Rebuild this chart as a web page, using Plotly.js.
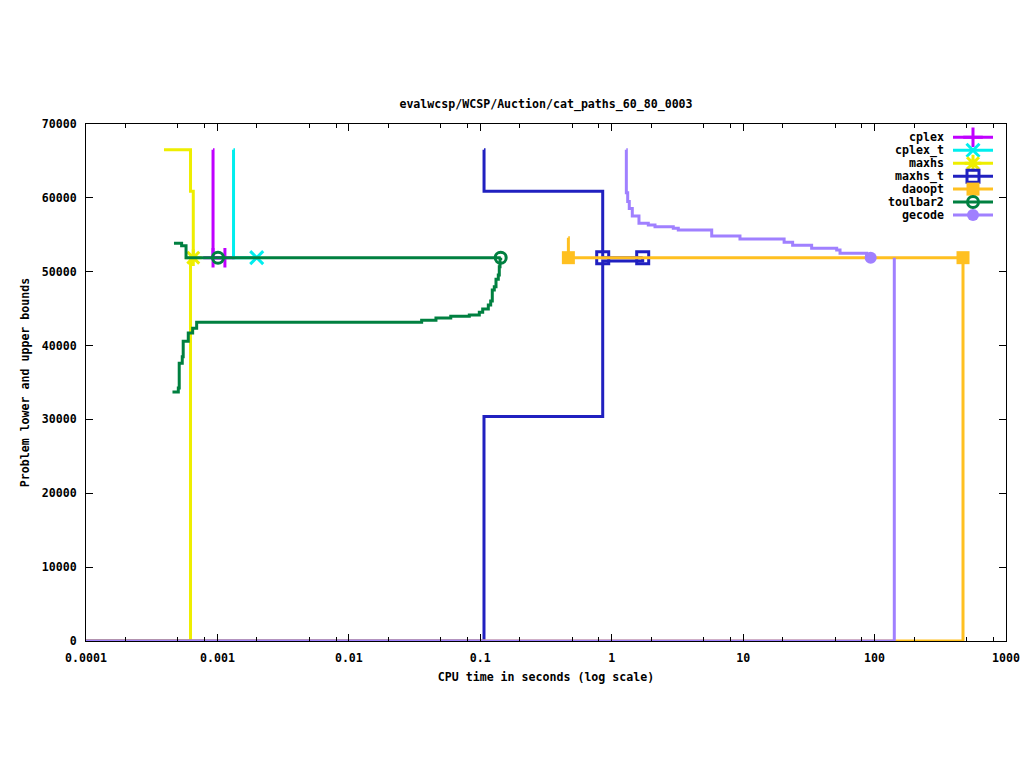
<!DOCTYPE html>
<html><head><meta charset="utf-8">
<script src="https://cdn.plot.ly/plotly-3.0.1.min.js"></script>
<style>html,body{margin:0;padding:0;background:#fff}#chart{width:1024px;height:768px}</style>
</head><body><div id="chart"></div>
<script>
// ---- labels ----
const chartTitle = 'evalwcsp/WCSP/Auction/cat_paths_60_80_0003';
const xTitle = 'CPU time in seconds (log scale)';
const yTitle = 'Problem lower and upper bounds';
const solvers = ['cplex', 'cplex_t', 'maxhs', 'maxhs_t', 'daoopt', 'toulbar2', 'gecode'];
const colors = ['#c000ff', '#00eeee', '#eeee00', '#2020c0', '#ffc020', '#008040', '#a080ff'];
const symbols = ['cross-thin-open', 'x-thin-open', 'asterisk-open', 'square-open', 'square', 'circle-open', 'circle'];
const xTickVals = [0.0001, 0.001, 0.01, 0.1, 1, 10, 100, 1000];
const xTickText = ['0.0001', '0.001', '0.01', '0.1', '1', '10', '100', '1000'];
const xMinorVals = [0.0002, 0.0005, 0.0008, 0.002, 0.005, 0.008, 0.02, 0.05, 0.08, 0.2, 0.5, 0.8, 2, 5, 8, 20, 50, 80, 200, 500, 800];
const yTickVals = [0, 10000, 20000, 30000, 40000, 50000, 60000, 70000];

// ---- cplex ----
const cplexUbT = [0.000925, 0.000926, 0.00114];
const cplexUbV = [66500, 51900, 51900];
const cplexLbT = [];
const cplexLbV = [];
const cplexMkT = [0.000926, 0.00114];
const cplexMkV = [51900, 51900];
// ---- cplex_t ----
const cplextUbT = [0.001324, 0.001326, 0.00199];
const cplextUbV = [66500, 51900, 51900];
const cplextLbT = [];
const cplextLbV = [];
const cplextMkT = [0.00199];
const cplextMkV = [51900];
// ---- maxhs ----
const maxhsUbT = [0.000392, 0.000624, 0.000655];
const maxhsUbV = [66500, 60900, 51900];
const maxhsLbT = [0.00009, 0.000624, 0.000655];
const maxhsLbV = [0, 51900, 51900];
const maxhsMkT = [0.000655];
const maxhsMkV = [51900];
// ---- maxhs_t ----
const maxhstUbT = [0.1067, 0.1068, 0.854, 1.721];
const maxhstUbV = [66500, 60900, 51900, 51900];
const maxhstLbT = [0.00009, 0.1067, 0.854, 1.721];
const maxhstLbV = [0, 30400, 51450, 51900];
const maxhstMkT = [0.854, 1.721];
const maxhstMkV = [51900, 51900];
// ---- daoopt ----
const daooptUbT = [0.467, 0.468, 470.9];
const daooptUbV = [54600, 51900, 51900];
const daooptLbT = [0.00009, 470.9];
const daooptLbV = [0, 51900];
const daooptMkT = [0.468, 470.9];
const daooptMkV = [51900, 51900];
// ---- toulbar2 ----
const tbUbT = [0.000467, 0.000534, 0.000577, 0.143];
const tbUbV = [53850, 53500, 51900, 51900];
const tbLbT = [0.000455, 0.000504, 0.000512, 0.00054, 0.000549, 0.0006, 0.000648, 0.000695, 0.0358, 0.046, 0.0596, 0.0825, 0.0983, 0.1043, 0.1151, 0.12, 0.1234, 0.1278, 0.1317, 0.1371, 0.1395, 0.1413, 0.143];
const tbLbV = [33700, 34250, 37600, 38500, 40600, 41700, 42350, 43170, 43420, 43730, 43960, 44140, 44500, 44950, 45500, 46030, 47520, 47970, 48970, 49560, 50680, 51800, 51900];
const tbMkT = [0.00101, 0.143];
const tbMkV = [51900, 51900];
// ---- gecode ----
const gecodeUbT = [1.29, 1.292, 1.323, 1.36, 1.434, 1.612, 1.898, 2.135, 2.941, 3.21, 5.765, 9.46, 20.5, 23.8, 33.2, 51.5, 54.6, 87.1, 93.4];
const gecodeUbV = [66500, 60700, 59500, 58570, 57550, 56560, 56330, 56100, 55880, 55650, 54840, 54430, 53990, 53580, 53170, 52940, 52500, 52260, 51900];
const gecodeLbT = [0.00009, 141.3];
const gecodeLbV = [0, 51900];
const gecodeMkT = [93.4];
const gecodeMkV = [51900];

const series = [
  [cplexUbT, cplexUbV, cplexLbT, cplexLbV, cplexMkT, cplexMkV],
  [cplextUbT, cplextUbV, cplextLbT, cplextLbV, cplextMkT, cplextMkV],
  [maxhsUbT, maxhsUbV, maxhsLbT, maxhsLbV, maxhsMkT, maxhsMkV],
  [maxhstUbT, maxhstUbV, maxhstLbT, maxhstLbV, maxhstMkT, maxhstMkV],
  [daooptUbT, daooptUbV, daooptLbT, daooptLbV, daooptMkT, daooptMkV],
  [tbUbT, tbUbV, tbLbT, tbLbV, tbMkT, tbMkV],
  [gecodeUbT, gecodeUbV, gecodeLbT, gecodeLbV, gecodeMkT, gecodeMkV]
];

// ---- layout constants (pixels) ----
const W = 1024, H = 768;
const PL = 86, PR = 1006, PT = 124, PB = 641;
const FONT = 'DejaVu Sans Mono, monospace';
const FS = 11.6;
const TXT = {family: FONT, size: FS, color: '#000', weight: 'bold'};
const LW = 3;
function markerStyle(i, size) {
  const open = symbols[i].indexOf('open') >= 0;
  return {symbol: symbols[i], size: size, color: colors[i],
          line: {color: colors[i], width: open ? LW : 0}};
}
const markerSizes = [14, 13, 14, 12, 13, 11, 12];

const traces = [];
series.forEach(function (s, i) {
  const line = {color: colors[i], width: LW, shape: 'hv'};
  if (s[0].length) traces.push({x: s[0], y: s[1], mode: 'lines', line: line, hoverinfo: 'skip', showlegend: false});
  if (s[2].length) traces.push({x: s[2], y: s[3], mode: 'lines', line: line, hoverinfo: 'skip', showlegend: false});
  traces.push({x: s[4], y: s[5], mode: 'markers', marker: markerStyle(i, markerSizes[i]), cliponaxis: false, hoverinfo: 'skip', showlegend: false});
});

// ---- gnuplot-style key (top right), drawn on an overlay axis in plot fractions ----
const pw = PR - PL, ph = PB - PT;
const fx = function (px) { return (px - PL) / pw; };
const fy = function (py) { return (PB - py) / ph; };
const keyTop = 137.3, keyStep = 12.95;
const annotations = [];
solvers.forEach(function (name, i) {
  const yy = fy(keyTop + i * keyStep);
  traces.push({x: [fx(953), fx(993)], y: [yy, yy], xaxis: 'x2', yaxis: 'y2', mode: 'lines',
               line: {color: colors[i], width: LW}, hoverinfo: 'skip', showlegend: false});
  traces.push({x: [fx(973)], y: [yy], xaxis: 'x2', yaxis: 'y2', mode: 'markers',
               marker: markerStyle(i, markerSizes[i]), hoverinfo: 'skip', showlegend: false});
  annotations.push({xref: 'x2', yref: 'y2', x: fx(946), y: yy, text: name, showarrow: false,
                    xanchor: 'right', yanchor: 'middle', font: TXT});
});

const layout = {
  width: W, height: H,
  margin: {l: PL, r: W - PR, t: PT, b: H - PB, pad: 0},
  paper_bgcolor: '#fff', plot_bgcolor: '#fff',
  showlegend: false,
  font: TXT,
  title: {text: chartTitle, x: 0.5, xanchor: 'center', y: 1 - 104 / H, yanchor: 'middle',
          xref: 'paper', yref: 'container', font: TXT},
  xaxis: {
    type: 'log', range: [-4, 3], tickmode: 'array', tickvals: xTickVals, ticktext: xTickText,
    ticks: 'inside', ticklen: 7, tickwidth: 1, tickcolor: '#000',
    showline: true, linecolor: '#000', linewidth: 1, mirror: 'ticks',
    showgrid: false, zeroline: false, ticklabelstandoff: 6,
    minor: {tickmode: 'array', tickvals: xMinorVals, ticks: 'inside', ticklen: 4, tickwidth: 1, tickcolor: '#000', showgrid: false},
    title: {text: xTitle, standoff: 8, font: TXT},
    tickfont: TXT
  },
  yaxis: {
    range: [0, 70000], tickmode: 'array', tickvals: yTickVals, tickformat: 'd',
    ticks: 'inside', ticklen: 7, tickwidth: 1, tickcolor: '#000',
    showline: true, linecolor: '#000', linewidth: 1, mirror: 'ticks',
    showgrid: false, zeroline: false, ticklabelstandoff: 6,
    title: {text: yTitle, standoff: 9, font: TXT},
    tickfont: TXT
  },
  xaxis2: {overlaying: 'x', anchor: 'y2', range: [0, 1], visible: false, fixedrange: true},
  yaxis2: {overlaying: 'y', anchor: 'x2', range: [0, 1], visible: false, fixedrange: true},
  annotations: annotations
};

Plotly.newPlot('chart', traces, layout, {displayModeBar: false, staticPlot: true});
</script>
</body></html>
